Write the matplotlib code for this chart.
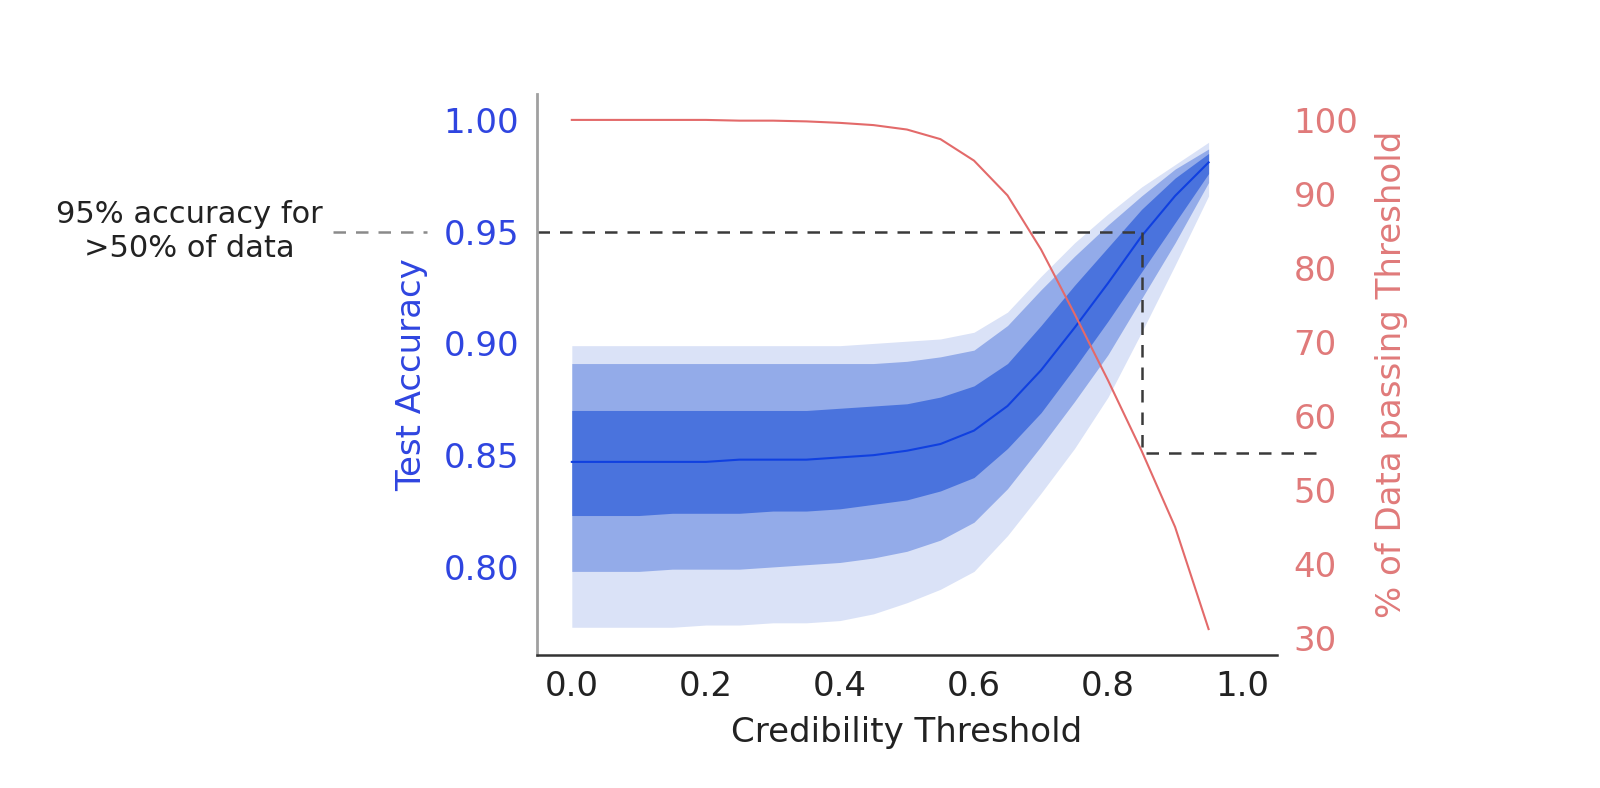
import matplotlib
matplotlib.use("Agg")
from matplotlib import pyplot as plt
import numpy as np

# credibility thresholds
thresholds = [0.00, 0.05, 0.10, 0.15, 0.20, 0.25, 0.30, 0.35, 0.40, 0.45,
              0.50, 0.55, 0.60, 0.65, 0.70, 0.75, 0.80, 0.85, 0.90, 0.95]

# test accuracy: median and percentile bands
acc_mid = [0.847, 0.847, 0.847, 0.847, 0.847, 0.848, 0.848, 0.848, 0.849, 0.850,
           0.852, 0.855, 0.861, 0.872, 0.888, 0.907, 0.927, 0.948, 0.966, 0.981]
acc_hi1 = [0.870, 0.870, 0.870, 0.870, 0.870, 0.870, 0.870, 0.870, 0.871, 0.872,
           0.873, 0.876, 0.881, 0.891, 0.908, 0.926, 0.943, 0.960, 0.974, 0.985]
acc_lo1 = [0.823, 0.823, 0.823, 0.824, 0.824, 0.824, 0.825, 0.825, 0.826, 0.828,
           0.830, 0.834, 0.840, 0.853, 0.869, 0.889, 0.910, 0.932, 0.954, 0.976]
acc_hi2 = [0.891, 0.891, 0.891, 0.891, 0.891, 0.891, 0.891, 0.891, 0.891, 0.891,
           0.892, 0.894, 0.897, 0.908, 0.924, 0.939, 0.953, 0.966, 0.978, 0.987]
acc_lo2 = [0.798, 0.798, 0.798, 0.799, 0.799, 0.799, 0.800, 0.801, 0.802, 0.804,
           0.807, 0.812, 0.820, 0.835, 0.854, 0.874, 0.895, 0.920, 0.945, 0.972]
acc_hi3 = [0.899, 0.899, 0.899, 0.899, 0.899, 0.899, 0.899, 0.899, 0.899, 0.900,
           0.901, 0.902, 0.905, 0.914, 0.930, 0.945, 0.958, 0.970, 0.980, 0.990]
acc_lo3 = [0.773, 0.773, 0.773, 0.773, 0.774, 0.774, 0.775, 0.775, 0.776, 0.779,
           0.784, 0.790, 0.798, 0.814, 0.833, 0.853, 0.876, 0.905, 0.935, 0.966]

# % of data passing the threshold
pct_pass = [100.0, 100.0, 100.0, 100.0, 100.0, 99.9, 99.9, 99.8, 99.6, 99.3,
            98.7, 97.4, 94.5, 89.8, 82.5, 73.8, 64.8, 55.3, 45.0, 31.2]

acc_ticks = [0.80, 0.85, 0.90, 0.95, 1.00]
pct_ticks = [30, 40, 50, 60, 70, 80, 90, 100]

# the marked operating point
thr_mark = 0.85
acc_mark = 0.95
pct_mark = 55.0

blue_txt = '#2f45e0'
red_txt = '#e07a7a'
fs = 24.5

plt.rcParams['font.family'] = 'DejaVu Sans'

fig = plt.figure(figsize=(16, 7.88), dpi=100)
ax = fig.add_axes([0.3356, 0.1688, 0.4625, 0.7119])
ax2 = ax.twinx()

acc_lim = (0.7606, 1.0116)
pct_lim = (27.7, 103.5)
ax.set_xlim(-0.052, 1.052)
ax.set_ylim(*acc_lim)
ax2.set_ylim(*pct_lim)

# bands, lightest first
ax.fill_between(thresholds, acc_lo3, acc_hi3, color='#dae2f7', lw=0)
ax.fill_between(thresholds, acc_lo2, acc_hi2, color='#93abe9', lw=0)
ax.fill_between(thresholds, acc_lo1, acc_hi1, color='#4a73dd', lw=0)
ax.plot(thresholds, acc_mid, color='#1040e0', lw=1.5)

ax2.plot(thresholds, pct_pass, color='#e36a6a', lw=1.5)


def pct_to_acc(p):
    return acc_lim[0] + (p - pct_lim[0]) / (pct_lim[1] - pct_lim[0]) * (acc_lim[1] - acc_lim[0])


dash = dict(lw=1.8, dashes=(5, 4), clip_on=False)
# horizontal line at 95% accuracy
ax.plot([-0.052, thr_mark], [acc_mark, acc_mark], color='#3a3a3a', **dash)
ax.plot([-0.357, -0.216], [acc_mark, acc_mark], color='#8a8a8a', **dash)
# down to the data fraction, then out to the right axis
ax.plot([thr_mark, thr_mark, 1.11], [acc_mark, pct_to_acc(pct_mark), pct_to_acc(pct_mark)],
        color='#3a3a3a', **dash)

ax.text(-0.57, acc_mark, "95% accuracy for\n>50% of data", ha='center', va='center',
        fontsize=22, color='#222222', multialignment='center')

# axes styling
for s in ['top', 'right']:
    ax.spines[s].set_visible(False)
for s in ['top', 'right', 'left', 'bottom']:
    ax2.spines[s].set_visible(False)
ax.spines['left'].set_color('#a0a0a0')
ax.spines['left'].set_linewidth(2.0)
ax.spines['bottom'].set_color('#333333')
ax.spines['bottom'].set_linewidth(1.8)

ax.set_xticks([0.0, 0.2, 0.4, 0.6, 0.8, 1.0])
ax.set_yticks(acc_ticks)
ax.set_yticklabels(['%.2f' % v for v in acc_ticks])
ax2.set_yticks(pct_ticks)

ax.tick_params(axis='x', length=0, pad=11, labelsize=fs, labelcolor='#222222')
ax.tick_params(axis='y', length=0, pad=13, labelsize=fs, labelcolor=blue_txt)
ax2.tick_params(axis='y', length=0, pad=12, labelsize=fs, labelcolor=red_txt)

ax.set_xlabel("Credibility Threshold", fontsize=fs, color='#222222', labelpad=9)
ax.set_ylabel("Test Accuracy", fontsize=fs, color=blue_txt, labelpad=11)
ax2.set_ylabel("% of Data passing Threshold", fontsize=fs, color=red_txt, labelpad=12)

fig.savefig("out.png", dpi=100)
